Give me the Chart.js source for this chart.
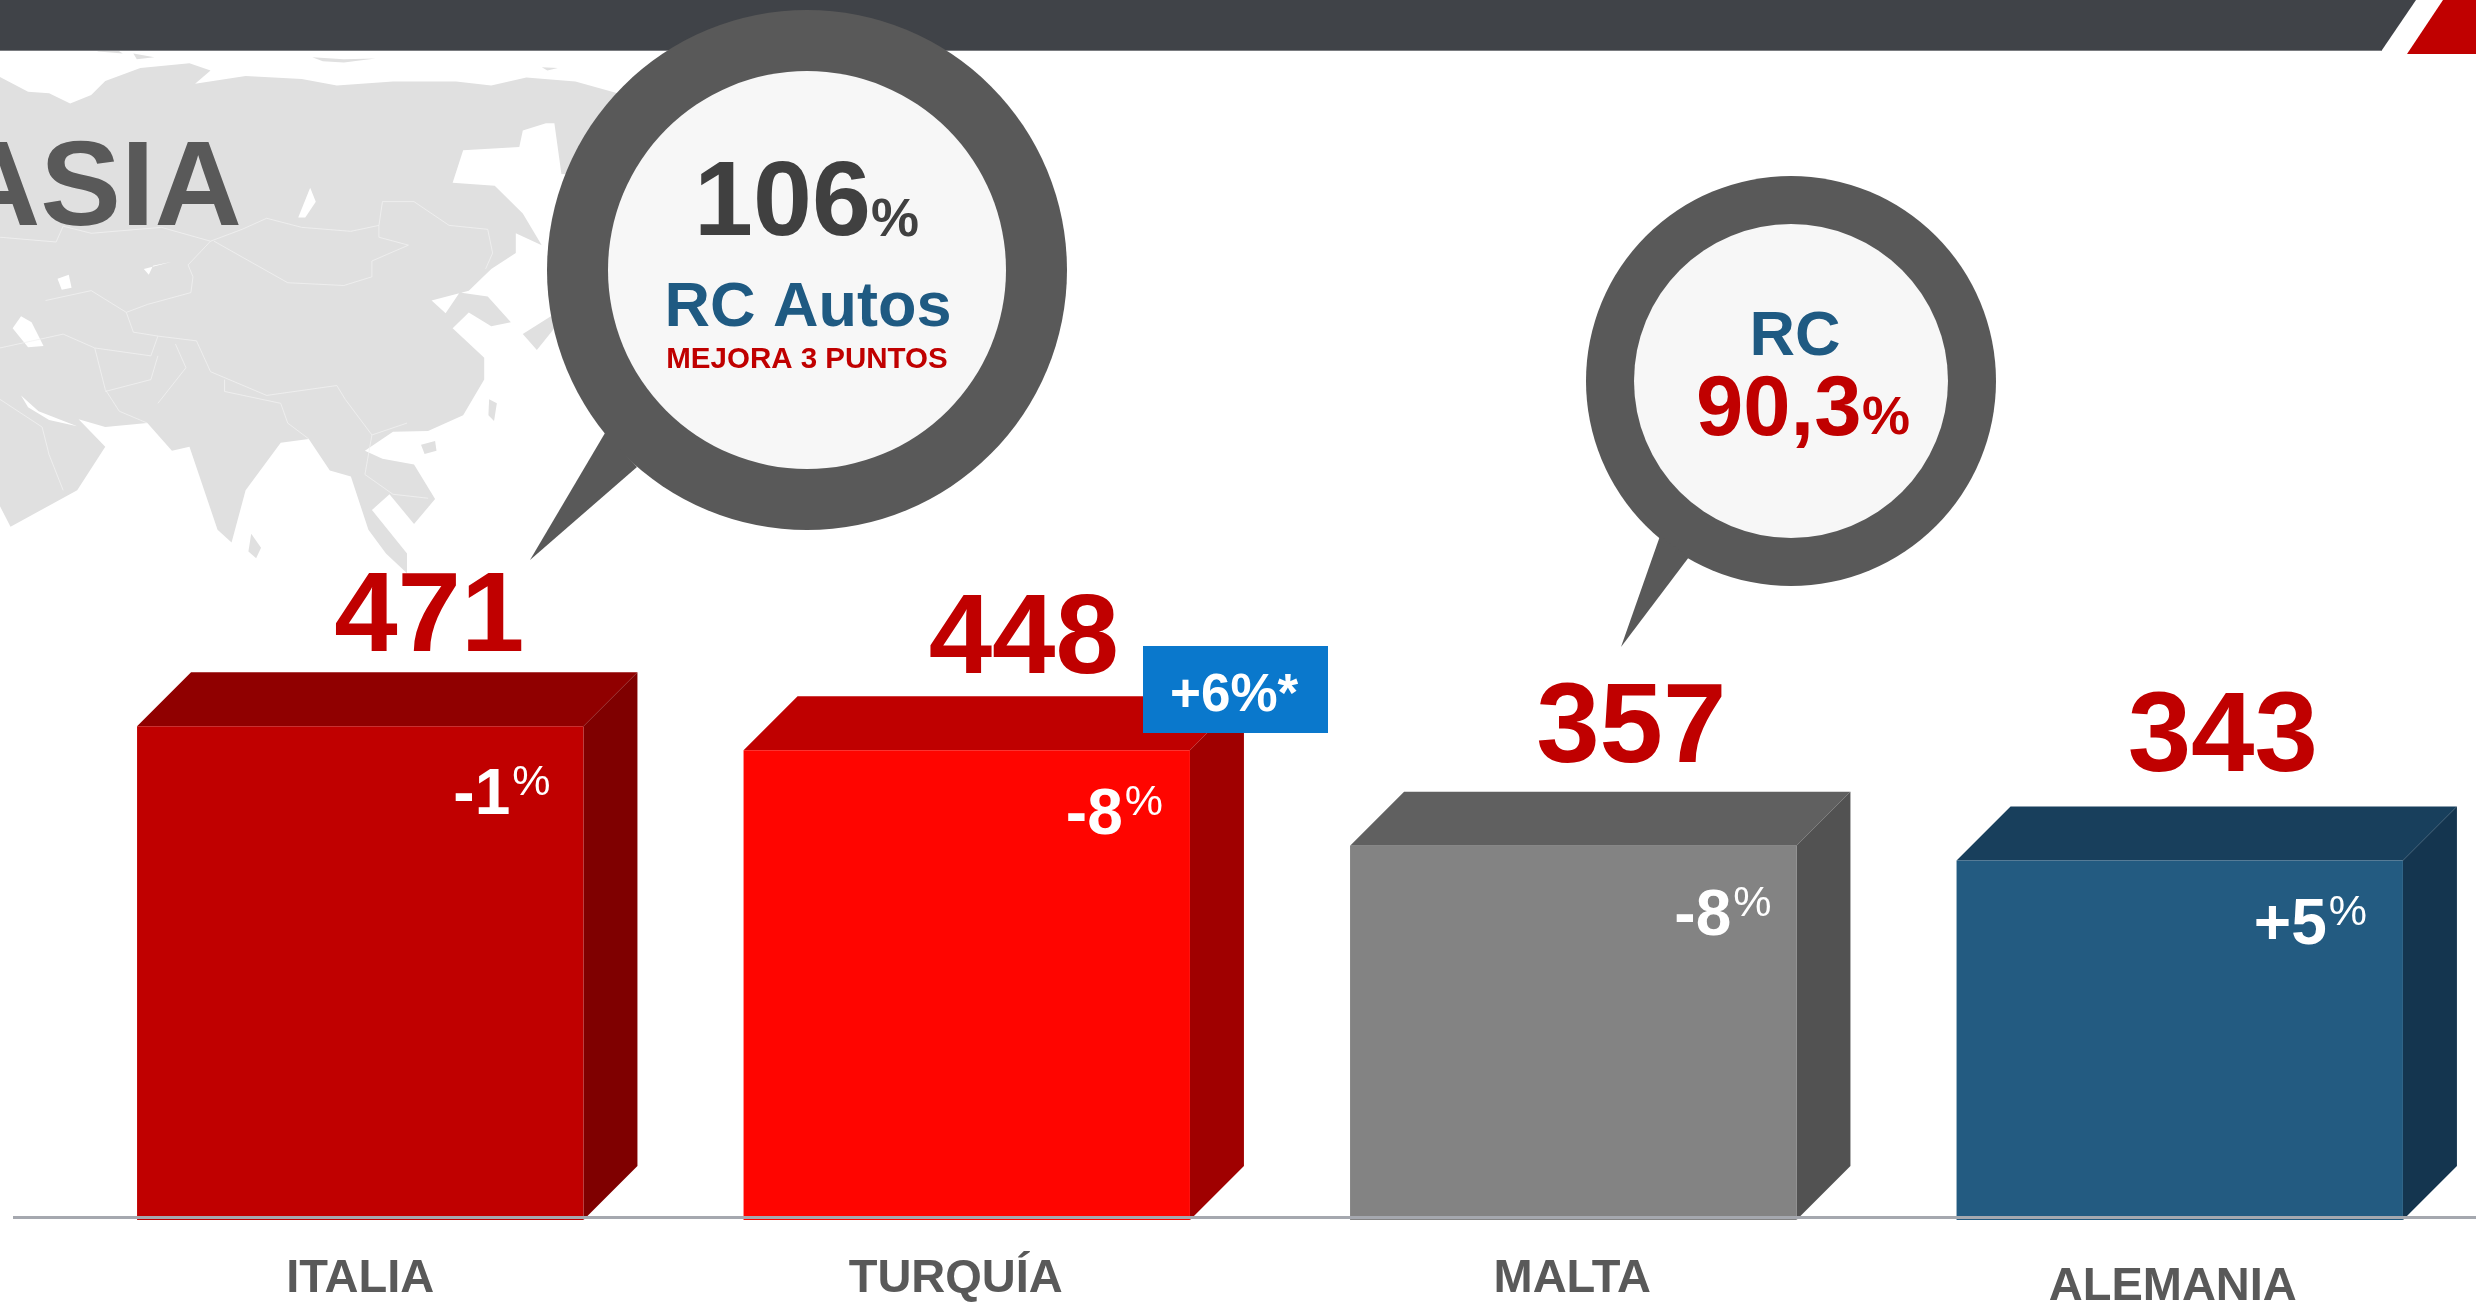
<!DOCTYPE html>
<html>
<head>
<meta charset="utf-8">
<title>RC Autos</title>
<style>
  html, body { margin: 0; padding: 0; background: #fff; overflow: hidden; width: 2476px; height: 1302px; }
  canvas { display: block; }
</style>
<script src="https://cdn.jsdelivr.net/npm/chart.js@4"></script>
</head>
<body>
<canvas id="chart" width="2500" height="1302"></canvas>
<script>
const categories = ['ITALIA', 'TURQUÍA', 'MALTA', 'ALEMANIA'];
const values = [471, 448, 357, 343];
const changes = ['-1', '-8', '-8', '+5'];

const frontColors = ['#C00000', '#FF0500', '#838383', '#235B81'];
const topColors = ['#900000', '#BF0000', '#606060', '#183F5C'];
const sideColors = ['#7F0000', '#A00000', '#525252', '#14354F'];

const FONT = '"Liberation Sans", Arial, sans-serif';
const RED = '#C00000';
const BLUE = '#1F5A82';
const DEPTH = 54;

// where the labels sit relative to their bar (the slide is not regular)
const valueOffsets = [[69, -75], [57, -77], [58, -84], [43, -89]];
const changeOffsets = [[150, 88], [156, 84], [158, 89], [147, 84]];
const tickNudges = [[0, 0], [-11, 0], [-1, 0], [-7, 8]];

function text(ctx, str, x, y, size, color, align, weight) {
    ctx.font = (weight || 'bold') + ' ' + size + 'px ' + FONT;
    ctx.fillStyle = color;
    ctx.textAlign = align || 'left';
    ctx.textBaseline = 'alphabetic';
    ctx.fillText(str, x, y);
}

function poly(ctx, pts, color) {
    ctx.fillStyle = color;
    ctx.beginPath();
    pts.forEach((p, i) => i ? ctx.lineTo(p[0], p[1]) : ctx.moveTo(p[0], p[1]));
    ctx.closePath();
    ctx.fill();
}

function bubble(ctx, cx, cy, outer, inner, tail) {
    ctx.fillStyle = '#595959';
    ctx.beginPath();
    ctx.arc(cx, cy, outer, 0, Math.PI * 2);
    ctx.fill();
    poly(ctx, tail, '#595959');
    ctx.fillStyle = '#F7F7F7';
    ctx.beginPath();
    ctx.arc(cx, cy, inner, 0, Math.PI * 2);
    ctx.fill();
}

// background map
const mapLand = [[0,195],[40,232],[70,236],[100,262],[130,240],[150,205],[200,172],[270,160],[300,178],[278,212],[350,192],[430,200],[480,216],[560,206],[650,206],[700,216],[750,196],[820,206],[880,236],[900,300],[900,450],[800,440],[790,312],[778,312],[745,330],[740,372],[660,380],[645,462],[705,470],[745,540],[772,620],[735,590],[735,640],[700,680],[668,735],[615,760],[635,792],[655,740],[695,750],[728,815],[700,825],[668,790],[645,830],[690,905],[690,960],[660,1050],[610,1090],[560,1092],[520,1140],[545,1160],[590,1175],[620,1262],[590,1325],[555,1250],[530,1290],[580,1400],[580,1450],[550,1400],[525,1340],[500,1205],[470,1190],[440,1110],[400,1120],[350,1240],[330,1372],[310,1340],[270,1130],[245,1140],[210,1070],[150,1080],[112,1060],[150,1130],[110,1240],[15,1332],[0,1280]];
const mapIslands = [
    [[128,122],[160,118],[175,135],[140,130]],
    [[190,135],[220,145],[195,150]],
    [[445,145],[490,150],[535,148],[490,158],[460,155]],
    [[772,170],[795,172],[780,178]],
    [[745,845],[785,800],[820,810],[790,830],[765,885]],
    [[697,1010],[708,1020],[704,1065],[696,1050]],
    [[600,1125],[620,1115],[622,1140],[605,1148]],
    [[358,1350],[372,1385],[365,1412],[354,1395]]
];
const mapHoles = [
    [[18,830],[30,800],[45,815],[62,875],[40,878]],
    [[30,1000],[55,1040],[110,1078],[70,1062],[40,1030]],
    [[82,705],[98,695],[102,728],[88,733]],
    [[425,550],[442,475],[450,510],[435,550]],
    [[205,680],[245,662],[218,672],[212,695]]
];
const mapBorders = [
    [[0,600],[80,612],[90,572],[130,590],[230,575],[300,610],[345,580],[380,552],[430,575],[500,585],[540,570],[545,510],[590,510],[640,570],[695,580],[702,640],[692,680]],
    [[305,610],[345,650],[410,715],[490,722],[530,700],[530,660],[582,620],[540,600],[540,570]],
    [[65,760],[130,735],[180,790],[210,770],[272,740],[275,700],[268,670],[300,610]],
    [[180,790],[190,840],[225,850],[280,862],[300,940],[380,1000],[480,975],[492,1010],[530,1100],[580,1070]],
    [[0,880],[90,845],[135,880],[150,985],[170,1040],[210,1070]],
    [[135,880],[215,900],[225,850]],
    [[150,990],[215,960],[225,900]],
    [[225,1020],[265,930],[250,870]],
    [[320,960],[320,990],[400,1020],[410,1070],[440,1110]],
    [[530,1100],[520,1200],[560,1250],[610,1260]],
    [[0,1010],[60,1080],[70,1150],[90,1240]]
];

function drawMap(ctx) {
    ctx.save();
    ctx.scale(1 / 1.425, 1 / 2.529);
    poly(ctx, mapLand, '#E0E0E0');
    mapIslands.forEach(p => poly(ctx, p, '#E0E0E0'));
    mapHoles.forEach(p => poly(ctx, p, '#FFFFFF'));
    ctx.strokeStyle = '#F2F2F2';
    ctx.lineWidth = 1.4;
    mapBorders.forEach(line => {
        ctx.beginPath();
        line.forEach((p, i) => i ? ctx.lineTo(p[0], p[1]) : ctx.moveTo(p[0], p[1]));
        ctx.stroke();
    });
    ctx.restore();
}

const slidePlugin = {
    id: 'slide',
    afterLayout(chart) {
        // the slide's category labels are not quite centred on their bars
        chart.scales.x.getLabelItems().forEach((item, i) => {
            item.options.translation[0] += tickNudges[i][0];
            item.options.translation[1] += tickNudges[i][1];
        });
    },
    beforeDraw(chart) {
        const ctx = chart.ctx;
        ctx.save();
        ctx.fillStyle = '#fff';
        ctx.fillRect(0, 0, chart.width, chart.height);
        drawMap(ctx);
        ctx.fillStyle = '#7A7C80';
        ctx.fillRect(0, 49, 2382, 2);
        poly(ctx, [[0, 0], [2416, 0], [2382, 50], [0, 50]], '#404348');
        poly(ctx, [[2443, 0], [2500, 0], [2500, 54], [2407, 54]], RED);
        text(ctx, 'ASIA', 242, 225, 121, '#595959', 'right');
        ctx.restore();
    },
    beforeDatasetsDraw(chart) {
        const ctx = chart.ctx;
        chart.getDatasetMeta(0).data.forEach((bar, i) => {
            const l = bar.x - bar.width / 2;
            const r = bar.x + bar.width / 2;
            poly(ctx, [[l, bar.y], [l + DEPTH, bar.y - DEPTH], [r + DEPTH, bar.y - DEPTH], [r, bar.y]], topColors[i]);
            poly(ctx, [[r, bar.y], [r + DEPTH, bar.y - DEPTH], [r + DEPTH, bar.base - DEPTH], [r, bar.base]], sideColors[i]);
        });
    },
    afterDatasetsDraw(chart) {
        const ctx = chart.ctx;
        ctx.save();
        // baseline runs past the plot area on the left
        ctx.fillStyle = '#A5A8AF';
        ctx.fillRect(13, chart.chartArea.bottom - 4, 2487, 3);

        chart.getDatasetMeta(0).data.forEach((bar, i) => {
            text(ctx, String(values[i]), bar.x + valueOffsets[i][0], bar.y + valueOffsets[i][1], 114, RED, 'center');
            const x = bar.x + changeOffsets[i][0];
            const y = bar.y + changeOffsets[i][1];
            text(ctx, changes[i], x, y, 64, '#fff', 'right');
            text(ctx, '%', x + 2, y - 19, 43, '#fff', 'left', 'normal');
        });

        // +6%* tag on the Turquía bar
        ctx.fillStyle = '#0A78CC';
        ctx.fillRect(1143, 646, 185, 87);
        text(ctx, '+6%*', 1170, 711, 53, '#fff');

        bubble(ctx, 807, 270, 260, 199, [[605, 433], [530, 560], [637, 467]]);
        text(ctx, '106', 694, 235, 106, '#404040');
        text(ctx, '%', 871, 236, 54, '#404040');
        text(ctx, 'RC Autos', 808, 326, 63, BLUE, 'center');
        text(ctx, 'MEJORA 3 PUNTOS', 807, 368, 29.5, RED, 'center');

        bubble(ctx, 1791, 381, 205, 157, [[1660, 536], [1621, 647], [1689, 557]]);
        text(ctx, 'RC', 1795, 355, 63, BLUE, 'center');
        text(ctx, '90,3', 1696, 435, 85, RED);
        text(ctx, '%', 1862, 434, 54, RED);
        ctx.restore();
    }
};

new Chart(document.getElementById('chart'), {
    type: 'bar',
    data: {
        labels: categories,
        datasets: [{
            data: values,
            backgroundColor: frontColors,
            barPercentage: 0.736,
            categoryPercentage: 1
        }]
    },
    options: {
        responsive: false,
        animation: false,
        layout: { padding: { left: 57, right: 17, top: 591, bottom: 0 } },
        plugins: { legend: { display: false }, tooltip: { enabled: false } },
        scales: {
            x: {
                grid: { display: false },
                border: { display: false },
                afterFit: scale => { scale.height = 82; },
                ticks: {
                    color: '#595959',
                    padding: 23,
                    maxRotation: 0,
                    font: { family: FONT, size: 47, weight: 'bold' }
                }
            },
            y: { display: false, min: 0, max: 600 }
        }
    },
    plugins: [slidePlugin]
});
</script>
</body>
</html>
